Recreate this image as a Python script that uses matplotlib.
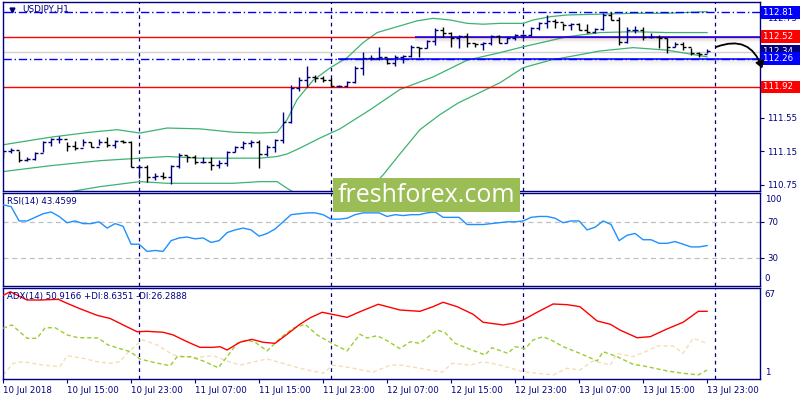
import matplotlib
matplotlib.use("Agg")
import matplotlib.pyplot as plt
from matplotlib.patches import Rectangle, FancyArrowPatch
import matplotlib.transforms as mtransforms
import numpy as np

# USDJPY H1 bars, 10 Jul 2018 07:00 .. 13 Jul 2018 23:00
first_open = 111.12
highs = [111.17, 111.19, 111.16, 111.08, 111.14, 111.28, 111.31, 111.33, 111.26, 111.28,
         111.30, 111.26, 111.30, 111.32, 111.29, 111.29, 111.28, 110.99, 110.99, 110.89,
         110.90, 110.99, 111.13, 111.11, 111.11, 111.08, 111.08, 111.05, 111.16, 111.22,
         111.28, 111.29, 111.29, 111.23, 111.30, 111.62, 111.94, 112.04, 112.17, 112.06,
         112.05, 112.03, 111.94, 111.99, 112.17, 112.34, 112.30, 112.40, 112.27, 112.30,
         112.30, 112.42, 112.40, 112.48, 112.62, 112.64, 112.58, 112.54, 112.57, 112.45,
         112.46, 112.54, 112.54, 112.52, 112.55, 112.55, 112.64, 112.70, 112.78, 112.73,
         112.68, 112.68, 112.68, 112.67, 112.62, 112.80, 112.81, 112.75, 112.64, 112.65,
         112.64, 112.57, 112.54, 112.51, 112.46, 112.46, 112.39, 112.34, 112.37]
lows = [111.07, 111.13, 111.02, 111.04, 111.05, 111.14, 111.22, 111.25, 111.16, 111.17,
        111.22, 111.20, 111.23, 111.20, 111.19, 111.25, 110.96, 110.83, 110.79, 110.81,
        110.82, 110.76, 110.95, 111.02, 111.00, 111.01, 110.93, 110.95, 110.98, 111.14,
        111.18, 111.20, 110.95, 111.10, 111.14, 111.25, 111.49, 111.87, 111.92, 111.98,
        111.98, 111.92, 111.92, 111.92, 111.97, 112.06, 112.24, 112.24, 112.20, 112.17,
        112.21, 112.28, 112.28, 112.39, 112.42, 112.52, 112.40, 112.39, 112.40, 112.40,
        112.36, 112.42, 112.45, 112.45, 112.48, 112.51, 112.53, 112.60, 112.62, 112.63,
        112.60, 112.60, 112.60, 112.57, 112.57, 112.60, 112.72, 112.42, 112.45, 112.57,
        112.48, 112.51, 112.39, 112.33, 112.40, 112.36, 112.30, 112.28, 112.33]
closes = [111.16, 111.17, 111.05, 111.06, 111.13, 111.26, 111.30, 111.30, 111.22, 111.19,
          111.26, 111.20, 111.26, 111.23, 111.28, 111.26, 110.97, 110.97, 110.85, 110.86,
          110.84, 110.98, 111.11, 111.08, 111.02, 111.03, 110.99, 111.01, 111.14, 111.20,
          111.25, 111.26, 111.12, 111.20, 111.29, 111.50, 111.91, 112.00, 112.04, 112.03,
          112.00, 111.93, 111.93, 111.98, 112.15, 112.27, 112.27, 112.28, 112.21, 112.28,
          112.29, 112.40, 112.39, 112.47, 112.60, 112.57, 112.51, 112.53, 112.45, 112.43,
          112.45, 112.53, 112.45, 112.51, 112.54, 112.54, 112.62, 112.68, 112.71, 112.70,
          112.66, 112.67, 112.60, 112.58, 112.61, 112.78, 112.72, 112.46, 112.60, 112.60,
          112.52, 112.52, 112.51, 112.40, 112.43, 112.40, 112.33, 112.31, 112.35]

# Bollinger bands (bar position, price)
bb_up_pos = [0, 5.9, 10.9, 14.25, 17.1, 20.5, 24.6, 28.75, 32.1, 34.25, 35.5, 36.75, 38.75,
             40.9, 43, 45, 46.75, 49.25, 51.75, 53.75, 55.9, 58, 60, 62.1, 65, 66.25, 68.4,
             70.5, 74.6, 78.75, 83, 88]
bb_up = [111.23, 111.32, 111.38, 111.41, 111.37, 111.43, 111.42, 111.38, 111.37, 111.38,
         111.53, 111.77, 112.00, 112.15, 112.27, 112.45, 112.57, 112.64, 112.71, 112.74,
         112.72, 112.68, 112.67, 112.68, 112.68, 112.72, 112.76, 112.78, 112.79, 112.80,
         112.80, 112.82]
bb_mid_pos = [0, 5.9, 12.1, 17.1, 20.5, 24.6, 28.75, 32.1, 34.25, 35.5, 37.1, 39.6, 42.1,
              45.9, 49.6, 53.75, 58, 62.1, 65, 70.5, 74.6, 78.75, 83, 88]
bb_mid = [110.91, 110.98, 111.04, 111.07, 111.09, 111.07, 111.07, 111.07, 111.09, 111.12,
          111.19, 111.31, 111.42, 111.65, 111.89, 112.04, 112.24, 112.33, 112.40, 112.52,
          112.57, 112.58, 112.57, 112.57]
bb_low_pos = [0, 5.9, 12.1, 17.1, 20.5, 24.6, 28.75, 32.1, 34.25, 35.5, 37.1, 42.1, 45.5,
              47.5, 49.6, 52.1, 54.6, 56.9, 62.1, 65, 68.4, 74.6, 78.75, 83, 88]
bb_low = [110.58, 110.63, 110.73, 110.79, 110.77, 110.77, 110.77, 110.79, 110.79, 110.71,
          110.62, 110.57, 110.67, 110.87, 111.12, 111.41, 111.59, 111.73, 111.97, 112.15,
          112.24, 112.35, 112.39, 112.36, 112.28]

rsi = [89, 87, 71, 71, 75, 79, 81, 76, 69, 71, 68, 68, 70, 63, 68, 65, 45, 45, 37, 38,
       37, 49, 52, 53, 51, 52, 47, 49, 58, 61, 63, 61, 54, 57, 62, 70, 78, 79, 80, 80,
       78, 73, 73, 74, 78, 80, 80, 80, 76, 78, 77, 78, 78, 80, 81, 75, 75, 75, 67, 67,
       67, 68, 69, 70, 70, 71, 75, 76, 76, 74, 69, 71, 71, 61, 64, 71, 67, 49, 55, 57,
       50, 50, 46, 46, 48, 45, 42, 42, 43.46]

adx_pos = [0, 0.9, 3, 4.6, 6.9, 8, 9.6, 11.75, 13.4, 15, 16.75, 18, 20, 21.25, 23, 24.6,
           26.25, 27.1, 28, 29.6, 31.1, 32.5, 34, 35.5, 37.1, 38.4, 39.9, 41.1, 43, 44.6,
           46.9, 49.6, 52.1, 53.75, 55, 56.75, 58.75, 60, 62.5, 63.75, 65, 66.75, 68.75,
           70.5, 72.1, 74.25, 75.9, 77.1, 79.25, 80.9, 83, 85, 86.9, 88]
adx = [63, 65.7, 59.5, 59.5, 60, 57, 53, 48, 45.6, 40.8, 35.7, 36, 35.3, 33.3, 28.2, 24,
       24, 24.5, 22, 27.8, 30, 27.8, 27, 33.8, 41.3, 46.2, 50.3, 48.8, 46.5, 50.7,
       56.3, 52, 51, 54.5, 57.8, 54.5, 48.8, 42.8, 40.8, 42, 44.5, 50.3, 56.5,
       56, 54.5, 43.8, 41.3, 37, 31.2, 32, 37.8, 42.8, 51, 51]
pdi_pos = [0, 1.1, 3, 4.25, 5.25, 6.5, 8, 9.4, 10.6, 11.9, 13.1, 15.9, 17.1, 18.75, 20.9,
           21.75, 23.4, 25, 26.9, 28, 29.25, 30.5, 31.5, 33, 34.6, 36.25, 37.75, 39.25,
           41.1, 43, 44.6, 45.5, 46.75, 48, 49.6, 50.9, 52.1, 54.25, 55.25, 56.5, 58.6,
           60.25, 61.1, 63.1, 64, 65.25, 66.25, 67.5, 68.75, 70, 72.1, 74.25, 75, 76.75,
           78.75, 80.5, 83, 85, 86.9, 88]
pdi = [38.3, 40.8, 30.8, 30.8, 38.7, 38.7, 33.3, 31.2, 31.2, 31, 25.8, 20.7, 15.3, 12.8,
       10.2, 17, 17, 13.8, 8.7, 17, 27, 29.5, 27.8, 21.3, 30.8, 38.3, 41.3, 33.3, 27,
       21.3, 33.8, 31, 32.7, 29, 23, 28.2, 27, 37, 35, 27, 22, 18.3, 23.7, 19.5, 24.5,
       23, 29.5, 32, 28.7, 24.5, 19.5, 13.8, 20.7, 17, 11.3, 9.5, 6.3, 4.5, 3.3, 7]
mdi_pos = [0, 1.25, 2.5, 5, 7.1, 8, 10, 11.75, 13.4, 14.6, 15.5, 16.75, 17.5, 19.25, 21.25,
           23.75, 26.25, 28, 29.6, 33, 35, 37.1, 40, 41.25, 43.4, 46.25, 48.4, 49.6, 52.1,
           54.9, 56.1, 58.4, 60, 62.1, 65, 68.75, 70.5, 72.1, 73.75, 75.9, 76.75, 78.75,
           80.5, 81.9, 83.75, 85, 86.25, 88]
mdi = [3.3, 12, 13.2, 10.7, 9.5, 17.7, 15.8, 13.2, 12, 13.2, 19.5, 26.3, 29.5, 25.8, 18.3,
       16.2, 17.7, 13.8, 10.7, 15.3, 12, 8.3, 4.5, 10.7, 8.7, 5.3, 10.7, 10.7, 8.3, 5.3,
       12, 10.7, 13.2, 10.7, 5.7, 3.3, 8.3, 7, 13.8, 10.7, 19.5, 17, 21.3, 25.2, 25,
       19.5, 30.8, 27]

x_labels = ["10 Jul 2018", "10 Jul 15:00", "10 Jul 23:00", "11 Jul 07:00", "11 Jul 15:00",
            "11 Jul 23:00", "12 Jul 07:00", "12 Jul 15:00", "12 Jul 23:00", "13 Jul 07:00",
            "13 Jul 15:00", "13 Jul 23:00"]
day_starts = [17, 41, 65, 89]
price_ticks = [110.75, 111.15, 111.55, 111.95, 112.35, 112.75]
# 111.95 and 112.35 sit under the coloured level boxes, so they get no text
price_tick_labels = ["110.75", "111.15", "111.55", "", "", "112.75"]
levels = [112.81, 112.52, 112.34, 112.26, 111.92]
level_cols = ["#0000ff", "#ff0000", "#000080", "#0000ff", "#ff0000"]

NAVY = "#00007f"
plt.rcParams["font.family"] = "DejaVu Sans"

n = len(closes)
idx = np.arange(n)
opens = np.array([first_open] + closes[:-1])
closes_a = np.array(closes)
bar_cols = [NAVY if c >= o else "black" for o, c in zip(opens, closes_a)]

fig = plt.figure(figsize=(8, 4), dpi=100)
L = 2.7 / 800
W = (760.3 - 2.7) / 800


def panel(top, bottom):
    a = fig.add_axes([L, 1 - bottom / 400, W, (bottom - top) / 400])
    for s in a.spines.values():
        s.set_color(NAVY)
        s.set_linewidth(1)
    a.set_xlim(-0.05, 94.65)
    a.yaxis.tick_right()
    a.tick_params(axis="y", colors=NAVY, labelsize=6.2, length=3, width=0.8, pad=2)
    a.tick_params(axis="x", length=0)
    a.set_xticks([])
    for d in day_starts:
        a.axvline(d, color=NAVY, lw=0.9, ls=(0, (3, 3)), zorder=1)
    return a


ax = panel(2, 191)
ax_rsi = panel(193, 285.5)
ax_adx = panel(288, 379)

# main panel
ax.set_ylim(110.678, 112.935)
ax.set_yticks(price_ticks)
ax.set_yticklabels(price_tick_labels)

ax.plot(bb_up_pos, bb_up, color="#3cb371", lw=0.9, zorder=2)
ax.plot(bb_mid_pos, bb_mid, color="#3cb371", lw=0.9, zorder=2)
ax.plot(bb_low_pos, bb_low, color="#3cb371", lw=0.9, zorder=2)

ax.axhline(112.34, color="#d0d0d0", lw=1, zorder=1)
ax.axhline(112.52, color="red", lw=1, zorder=2)
ax.axhline(111.92, color="red", lw=1, zorder=2)
ax.axhline(112.81, color="blue", lw=1, ls=(0, (6, 2, 1, 2)), zorder=3)
ax.axhline(112.26, color="blue", lw=1, ls=(0, (6, 2, 1, 2)), zorder=3)

# channel lines with a soft shadow
for level, start in [(112.52, 51.5), (112.26, 41.9)]:
    for k in range(1, 8):
        ax.hlines(level - k * 0.011, start, 94.65, color="gray",
                  alpha=0.10 * (8 - k) / 7, lw=1.3, zorder=2)
    ax.hlines(level, start, 94.65, color="blue", lw=1.1, zorder=4)

ax.vlines(idx, lows, highs, colors=bar_cols, lw=1, zorder=5)
ax.hlines(opens, idx - 0.4, idx, colors=bar_cols, lw=1, zorder=5)
ax.hlines(closes_a, idx, idx + 0.4, colors=bar_cols, lw=1, zorder=5)

# price labels on the right scale
trans = mtransforms.blended_transform_factory(ax.transAxes, ax.transData)
for price, col in zip(levels, level_cols):
    ax.text(1.003, price, f"{price:.2f}  ", transform=trans, color="white", fontsize=6.2,
            va="center", ha="left", zorder=10, clip_on=False,
            bbox=dict(boxstyle="square,pad=0.22", fc=col, ec="none"))

ax.text(20 / 757.6, 1 - 3 / 189, "USDJPY,H1", transform=ax.transAxes, color=NAVY,
        fontsize=6.4, va="top", ha="left")
ax.plot([9 / 757.6], [1 - 8 / 189], marker="v", ms=3.5, color=NAVY,
        transform=ax.transAxes, clip_on=False)

arrow = FancyArrowPatch((88.8, 112.385), (95.0, 112.11), transform=ax.transData,
                        connectionstyle="arc3,rad=-0.55",
                        arrowstyle="-|>,head_length=4,head_width=2.5",
                        color="black", lw=1.3, clip_on=False, zorder=8)
fig.patches.append(arrow)

# RSI panel
ax_rsi.set_ylim(-1.1, 102.2)
ax_rsi.set_yticks([30, 70])
ax_rsi.axhline(70, color="#c0c0c0", lw=0.9, ls=(0, (4, 3)), zorder=1)
ax_rsi.axhline(30, color="#c0c0c0", lw=0.9, ls=(0, (4, 3)), zorder=1)
ax_rsi.plot(idx, rsi, color="#1e90ff", lw=1, zorder=3)
ax_rsi.text(1.006, (285.5 - 199.3) / 92.5, "100", transform=ax_rsi.transAxes, color=NAVY,
            fontsize=6.2, va="center", ha="left")
ax_rsi.text(1.006, (285.5 - 278.3) / 92.5, "0", transform=ax_rsi.transAxes, color=NAVY,
            fontsize=6.2, va="center", ha="left")
fig.text(7 / 800, 1 - 201.5 / 400, "RSI(14) 43.4599", color=NAVY, fontsize=6.2, va="center")

# ADX panel
ax_adx.set_ylim(0.25, 68.5)
ax_adx.set_yticks([])
ax_adx.plot(mdi_pos, mdi, color="#f5deb3", lw=1, ls=(0, (3, 2)), zorder=2)
ax_adx.plot(pdi_pos, pdi, color="#9acd32", lw=1, ls=(0, (3, 2)), zorder=3)
ax_adx.plot(adx_pos, adx, color="red", lw=1, zorder=4)
ax_adx.text(1.006, (379 - 294.3) / 91, "67", transform=ax_adx.transAxes, color=NAVY,
            fontsize=6.2, va="center", ha="left")
ax_adx.text(1.006, (379 - 372.3) / 91, "1", transform=ax_adx.transAxes, color=NAVY,
            fontsize=6.2, va="center", ha="left")
fig.text(7 / 800, 1 - 296.5 / 400, "ADX(14) 50.9166 +DI:8.6351 -DI:26.2888", color=NAVY,
         fontsize=6.2, va="center")

ax_adx.set_xticks(idx[::8])
ax_adx.set_xticklabels(x_labels, ha="left")
ax_adx.tick_params(axis="x", colors=NAVY, labelsize=6.2, length=3, width=0.8, pad=2)

# watermark
fig.patches.append(Rectangle((333 / 800, 1 - 212 / 400), 187 / 800, 34 / 400,
                             transform=fig.transFigure, fc="#9bbd55", ec="none", zorder=20))
fig.text(426.5 / 800, 1 - 195 / 400, "freshforex.com", color="white", fontsize=18,
         family="Open Sans", ha="center", va="center", zorder=21)

fig.savefig("out.png", dpi=100)
